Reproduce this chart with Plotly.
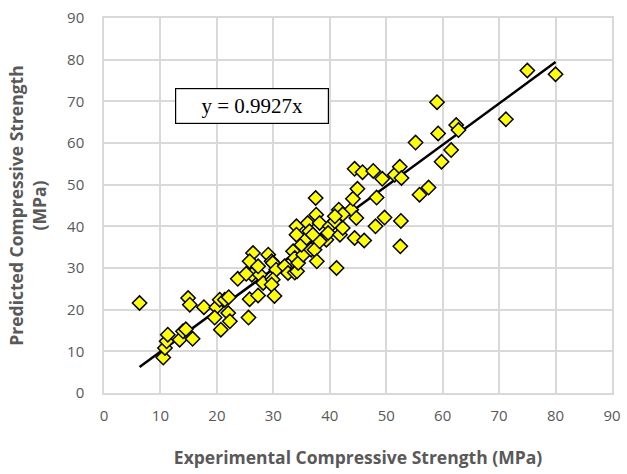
import plotly.graph_objects as go

# Experimental (x) vs predicted (y) compressive strength, MPa
exp_strength = [
    6.3, 10.5, 10.8, 11.1, 11.3, 13.4, 14.0, 14.5, 15.7, 14.9, 15.2, 17.7, 19.9, 19.6,
    20.5, 20.7, 21.4, 22.1, 22.0, 22.3, 23.7, 25.6, 25.8, 27.3, 26.2, 27.6, 28.2, 25.2,
    26.4, 25.8, 27.3, 29.1, 29.7, 29.9, 30.5, 29.9, 29.7, 30.2, 32.0, 32.6, 33.8, 34.2,
    33.5, 33.8, 34.4, 35.3, 35.0, 35.9, 36.7, 37.3, 37.7, 41.2, 34.1, 34.1, 36.1, 36.4,
    37.6, 38.2, 40.0, 40.9, 39.4, 38.2, 37.0, 37.5, 39.7, 41.8, 42.3, 41.6, 43.8, 42.3,
    40.9, 44.7, 44.4, 46.1, 44.1, 44.9, 48.3, 49.7, 48.1, 44.4, 45.8, 47.7, 49.3, 51.5,
    52.4, 52.7, 52.6, 52.5, 55.2, 55.9, 57.5, 59.0, 59.2, 59.8, 61.5, 62.4, 62.8, 71.2,
    75.0, 80.0,
]
pred_strength = [
    21.6, 8.5, 10.8, 12.4, 14.0, 12.8, 14.8, 15.3, 13.0, 22.8, 21.2, 20.6, 20.6, 18.1,
    22.4, 15.2, 22.4, 23.0, 19.2, 17.2, 27.4, 18.1, 22.5, 23.4, 28.4, 28.4, 26.4, 28.6,
    33.6, 31.6, 30.4, 33.2, 31.6, 31.2, 29.6, 27.2, 26.0, 23.3, 30.4, 28.8, 28.9, 29.2,
    34.0, 32.4, 31.2, 33.2, 35.6, 37.2, 34.4, 34.4, 31.6, 30.0, 40.0, 38.0, 40.8, 38.8,
    42.8, 40.8, 40.0, 41.2, 36.8, 36.4, 38.0, 46.8, 38.4, 38.0, 39.6, 44.0, 44.0, 42.9,
    42.4, 42.0, 37.2, 36.6, 46.6, 49.0, 46.9, 42.1, 40.0, 53.8, 53.0, 53.3, 51.4, 52.4,
    54.3, 51.6, 41.3, 35.2, 60.1, 47.6, 49.3, 69.8, 62.3, 55.5, 58.3, 64.3, 63.1, 65.7,
    77.4, 76.5,
]
slope = 0.9927
x_ticks = [0, 10, 20, 30, 40, 50, 60, 70, 80, 90]
y_ticks = [0, 10, 20, 30, 40, 50, 60, 70, 80, 90]

x_min, x_max = min(exp_strength), max(exp_strength)
trend_x = [x_min, x_max]
trend_y = [slope * v for v in trend_x]

gray = "#595959"
grid = "#d9d9d9"

fig = go.Figure()
fig.add_trace(go.Scatter(
    x=trend_x, y=trend_y, mode="lines",
    line=dict(color="black", width=2.5), showlegend=False, hoverinfo="skip",
))
fig.add_trace(go.Scatter(
    x=exp_strength, y=pred_strength, mode="markers",
    marker=dict(symbol="diamond", size=11, color="#FFFF00",
                line=dict(color="black", width=1.5)),
    showlegend=False,
))

fig.add_annotation(
    x=26.2, y=69.0, xref="x", yref="y", text=f"y = {slope}x", showarrow=False,
    font=dict(family="Liberation Serif", size=21, color="black"),
    bgcolor="white", bordercolor="black", borderwidth=1.2, borderpad=2,
    width=148, height=30, align="center", valign="middle",
)

fig.update_layout(
    width=627, height=474,
    margin=dict(l=104, r=15, t=18, b=81),
    paper_bgcolor="white", plot_bgcolor="white",
    font=dict(family="Open Sans", color=gray, size=15),
)
fig.update_xaxes(
    range=[0, 90], tickvals=x_ticks, showgrid=True, gridcolor=grid, gridwidth=1.5,
    showline=True, linecolor=grid, linewidth=1.5, mirror=True, zeroline=False,
    ticks="outside", ticklen=8, tickcolor="rgba(0,0,0,0)", automargin=False,
    tickfont=dict(family="Open Sans", size=15, color=gray),
    title=dict(text="<b>Experimental Compressive Strength (MPa)</b>",
               font=dict(family="Open Sans", size=17.5, color=gray), standoff=28),
)
fig.update_yaxes(
    range=[0, 90], tickvals=y_ticks, showgrid=True, gridcolor=grid, gridwidth=1.5,
    showline=True, linecolor=grid, linewidth=1.5, mirror=True, zeroline=False,
    ticks="outside", ticklen=15, tickcolor="rgba(0,0,0,0)", automargin=False,
    tickfont=dict(family="Open Sans", size=15, color=gray),
    title=dict(text="<b>Predicted Compressive Strength<br>(MPa)</b>",
               font=dict(family="Open Sans", size=17.5, color=gray), standoff=16),
)

fig.write_html("out.html")
